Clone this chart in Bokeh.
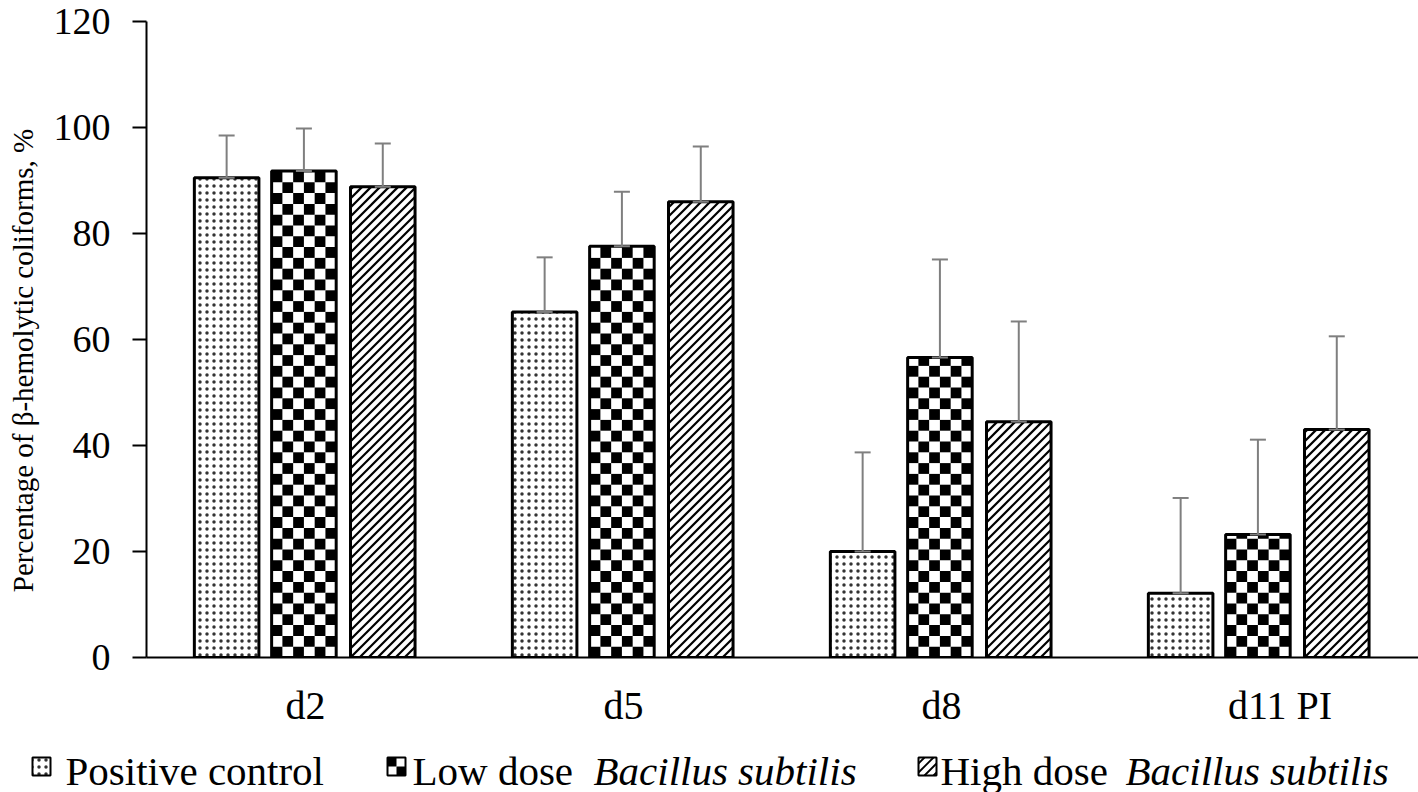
import math
from bokeh.plotting import figure
from bokeh.models import Range1d, FixedTicker, Whisker, ColumnDataSource, TeeHead
from bokeh.core.properties import value
from bokeh.embed import file_html
from bokeh.resources import INLINE

# ---------------- data ----------------
categories = ["d2", "d5", "d8", "d11  PI"]
series_names = ["Positive control", "Low dose", "High dose"]
series_italic = ["", "Bacillus subtilis", "Bacillus subtilis"]
positive_control = [90.5, 65.2, 20.0, 12.1]
low_dose = [91.8, 77.6, 56.6, 23.2]
high_dose = [88.8, 86.0, 44.5, 43.0]
positive_sd = [8.0, 10.3, 18.7, 18.0]
low_sd = [8.0, 10.3, 18.5, 17.9]
high_sd = [8.2, 10.4, 18.9, 17.6]
y_ticks = [0, 20, 40, 60, 80, 100, 120]
y_title = "Percentage of \u03b2-hemolytic coliforms, %"

# ---------------- styles ----------------
FONT = "Liberation Serif"
W, H = 1418, 792
FL, FB, FT = 146, 657, 21          # frame left, bottom, top (px)
X_MAX, Y_MAX = 4.0, 120
KX = (W - FL) / X_MAX               # px per x unit
KY = (FB - FT) / Y_MAX              # px per y unit
offsets = [-0.248, -0.005, 0.243]
bar_w = 0.203
ERR = "#7f7f7f"
CHECK_COLS = 6
CHECK_PX = 10.8
DIAG_PX = 9.0


def diag_segments(wp, hp, phase=0.0):
    """45-degree '/' lines inside a wp x hp px box (u right, v up)."""
    out = []
    k0 = math.floor((-wp - phase) / DIAG_PX)
    k1 = math.ceil((hp - phase) / DIAG_PX)
    for k in range(k0, k1 + 1):
        c = k * DIAG_PX + phase
        u0, u1 = max(0.0, -c), min(wp, hp - c)
        if u1 > u0:
            out.append((u0, u0 + c, u1, u1 + c))
    return out


p = figure(width=W, height=H, x_range=Range1d(0, X_MAX), y_range=Range1d(0, Y_MAX),
           toolbar_location=None, output_backend="svg",
           min_border_left=FL, min_border_right=0, min_border_top=FT,
           min_border_bottom=H - FB)
p.xgrid.visible = False
p.ygrid.visible = False
p.outline_line_color = None
p.background_fill_color = "white"
# pixel-space ranges for the legend and the rotated axis title
p.extra_x_ranges = {"px": Range1d(FL, W)}
p.extra_y_ranges = {"py": Range1d(FB, FT)}

values = [positive_control, low_dose, high_dose]
sds = [positive_sd, low_sd, high_sd]
for i in range(3):
    xs = [j + 0.5 + offsets[i] for j in range(len(categories))]
    src = ColumnDataSource(dict(x=xs, top=values[i],
                                upper=[v + s for v, s in zip(values[i], sds[i])]))
    if i == 0:
        p.vbar(x="x", top="top", bottom=0, width=bar_w, source=src,
               fill_color="white", line_color="black", line_width=3,
               hatch_pattern="dot", hatch_scale=7, hatch_alpha=0.8, hatch_color="black")
    else:
        p.vbar(x="x", top="top", bottom=0, width=bar_w, source=src,
               fill_color="white", line_color=None)
        if i == 1:
            # checkerboard fill derived from each bar's height
            dy = CHECK_PX / KY
            dx = bar_w / CHECK_COLS
            L, R, B, T = [], [], [], []
            for xc, top in zip(xs, values[i]):
                for r in range(math.ceil(top / dy)):
                    for c in range(CHECK_COLS):
                        if (r + c) % 2 == 0:
                            L.append(xc - bar_w / 2 + c * dx)
                            R.append(xc - bar_w / 2 + (c + 1) * dx)
                            B.append(r * dy)
                            T.append(min((r + 1) * dy, top))
            p.quad(left=L, right=R, bottom=B, top=T, fill_color="black", line_color=None)
        else:
            # 45-degree diagonal fill derived from each bar's height
            X0, Y0, X1, Y1 = [], [], [], []
            for xc, top in zip(xs, values[i]):
                xl = xc - bar_w / 2
                for u0, v0, u1, v1 in diag_segments(bar_w * KX, top * KY):
                    X0.append(xl + u0 / KX); Y0.append(v0 / KY)
                    X1.append(xl + u1 / KX); Y1.append(v1 / KY)
            p.segment(x0=X0, y0=Y0, x1=X1, y1=Y1, line_color="black", line_width=2.2)
        p.vbar(x="x", top="top", bottom=0, width=bar_w, source=src,
               fill_color=None, line_color="black", line_width=3)
    w = Whisker(source=src, base="x", lower="top", upper="upper", dimension="height",
                line_color=ERR, line_width=2, level="overlay",
                upper_head=TeeHead(size=16, line_color=ERR, line_width=2),
                lower_head=TeeHead(size=16, line_color=ERR, line_width=2))
    p.add_layout(w)

# x axis
tick_pos = [0.5, 1.5, 2.5, 3.58]
p.xaxis.ticker = FixedTicker(ticks=tick_pos)
p.xaxis.major_label_overrides = {t: c for t, c in zip(tick_pos, categories)}
p.xaxis.major_tick_line_color = None
p.xaxis.minor_tick_line_color = None
p.xaxis.major_tick_out = 0
p.xaxis.major_tick_in = 0
p.xaxis.major_label_standoff = 25
p.xaxis.axis_line_color = "black"
p.xaxis.axis_line_width = 2
p.xaxis.major_label_text_font = FONT
p.xaxis.major_label_text_font_size = "40px"
p.xaxis.major_label_text_color = "black"

# y axis
p.yaxis.ticker = FixedTicker(ticks=y_ticks)
p.yaxis.minor_tick_line_color = None
p.yaxis.major_tick_in = 0
p.yaxis.major_tick_out = 14
p.yaxis.major_tick_line_width = 2
p.yaxis.major_tick_line_color = "black"
p.yaxis.axis_line_width = 2
p.yaxis.axis_line_color = "black"
p.yaxis.major_label_standoff = 22
p.yaxis.major_label_text_font = FONT
p.yaxis.major_label_text_font_size = "38px"
p.yaxis.major_label_text_color = "black"

# rotated y title
p.text(x=[22], y=[360], text=[y_title], angle=90, angle_units="deg",
       x_range_name="px", y_range_name="py", level="overlay",
       text_align="center", text_baseline="middle",
       text_font=value(FONT), text_font_size="29px", text_color="black")

# ---------------- legend ----------------
swatch_x = [41, 396, 927]
swatch_y = 766
SW = 18
text_x = [65, 412, 940]
italic_x = [0, 593, 1125]
legend_mid_y = 770
pxkw = dict(x_range_name="px", y_range_name="py", level="overlay")
for i in range(3):
    cx = swatch_x[i]
    if i == 0:
        p.rect(x=[cx], y=[swatch_y], width=SW, height=SW,
               width_units="screen", height_units="screen",
               fill_color="white", line_color=None,
               hatch_pattern="dot", hatch_scale=7, hatch_alpha=0.8, hatch_color="black", **pxkw)
    elif i == 1:
        p.quad(left=[cx - SW / 2, cx], right=[cx, cx + SW / 2],
               top=[swatch_y - SW / 2, swatch_y], bottom=[swatch_y, swatch_y + SW / 2],
               fill_color="black", line_color=None, **pxkw)
    else:
        segs = diag_segments(SW, SW, phase=3.0)
        p.segment(x0=[cx - SW / 2 + s[0] for s in segs], y0=[swatch_y + SW / 2 - s[1] for s in segs],
                  x1=[cx - SW / 2 + s[2] for s in segs], y1=[swatch_y + SW / 2 - s[3] for s in segs],
                  line_color="black", line_width=1.8, **pxkw)
    p.rect(x=[cx], y=[swatch_y], width=SW, height=SW,
           width_units="screen", height_units="screen",
           fill_color=None, line_color="black", line_width=2, **pxkw)
    p.text(x=[text_x[i]], y=[legend_mid_y], text=[series_names[i]],
           text_align="left", text_baseline="middle",
           text_font=value(FONT), text_font_size="41px", text_color="black", **pxkw)
    if series_italic[i]:
        p.text(x=[italic_x[i]], y=[legend_mid_y], text=[series_italic[i]],
               text_align="left", text_baseline="middle",
               text_font=value(FONT), text_font_size="41px", text_font_style="italic",
               text_color="black", **pxkw)

open("out.html", "w").write(file_html(p, INLINE))
